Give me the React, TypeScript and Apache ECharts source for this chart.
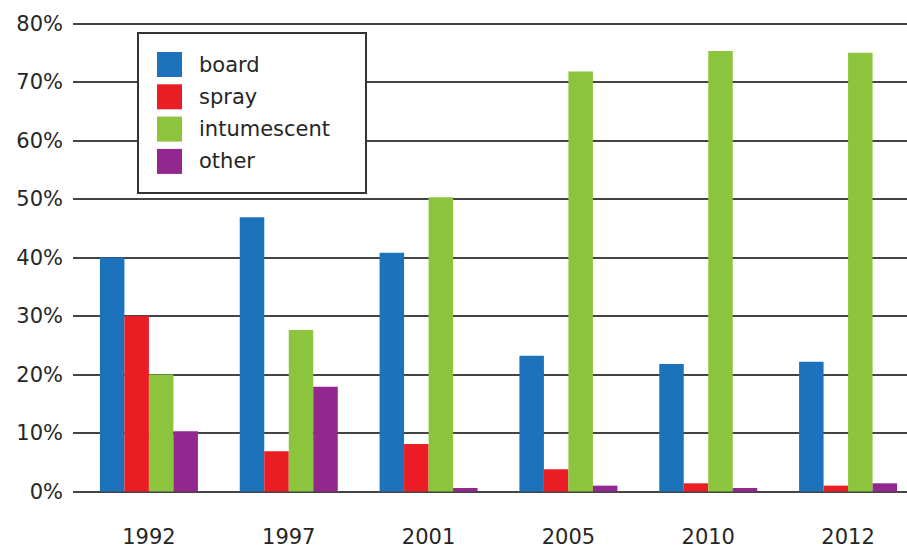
import React, { useEffect, useRef } from "react";
import * as echarts from "echarts";

const years = ["1992", "1997", "2001", "2005", "2010", "2012"];
const board = [40, 46.9, 40.8, 23.2, 21.8, 22.2];
const spray = [30, 6.9, 8.1, 3.8, 1.4, 1.0];
const intumescent = [20, 27.6, 50.3, 71.8, 75.3, 75.0];
const other = [10.3, 17.9, 0.6, 1.0, 0.6, 1.4];

const FONT = "DejaVu Sans";
const TEXT = "#262626";

export default function App() {
  const ref = useRef<HTMLDivElement>(null);
  useEffect(() => {
    document.body.style.margin = "0";
    const chart = echarts.init(ref.current!, null, { renderer: "svg" });
    const mk = (name: string, data: number[], color: string) => ({
      name,
      type: "bar",
      data,
      itemStyle: { color },
      barGap: "0%",
      barCategoryGap: "30%",
      barWidth: 24.5,
    });
    chart.setOption({
      animation: false,
      backgroundColor: "#ffffff",
      textStyle: { fontFamily: FONT },
      grid: { left: 79, right: 0, top: 23.5, bottom: 58.5, containLabel: false },
      legend: {
        orient: "vertical",
        left: 138,
        top: 33,
        padding: [19, 36, 19, 19],
        borderColor: "#333333",
        borderWidth: 2,
        backgroundColor: "#ffffff",
        itemWidth: 25,
        itemHeight: 25,
        itemGap: 7.3,
        icon: "rect",
        textStyle: { fontFamily: FONT, fontSize: 21, color: TEXT, padding: [0, 0, 0, 12] },
        data: ["board", "spray", "intumescent", "other"],
      },
      xAxis: {
        type: "category",
        data: years,
        axisLine: { show: false },
        axisTick: { show: false },
        axisLabel: { fontFamily: FONT, fontSize: 21, color: TEXT, margin: 35 },
      },
      yAxis: {
        type: "value",
        min: 0,
        max: 80,
        interval: 10,
        axisLine: { show: false },
        axisTick: { show: true, length: 6, lineStyle: { color: "#444444", width: 2 } },
        axisLabel: { fontFamily: FONT, fontSize: 21, color: TEXT, margin: 16, formatter: "{value}%" },
        splitLine: { show: true, lineStyle: { color: "#444444", width: 2 } },
      },
      series: [
        mk("board", board, "#1c72bb"),
        mk("spray", spray, "#ea1c24"),
        mk("intumescent", intumescent, "#8cc43e"),
        mk("other", other, "#92278f"),
      ],
    });
    return () => chart.dispose();
  }, []);
  return (
    <div style={{ width: 907, height: 550, overflow: "hidden" }}>
      <div ref={ref} style={{ width: 918, height: 550 }} />
    </div>
  );
}
